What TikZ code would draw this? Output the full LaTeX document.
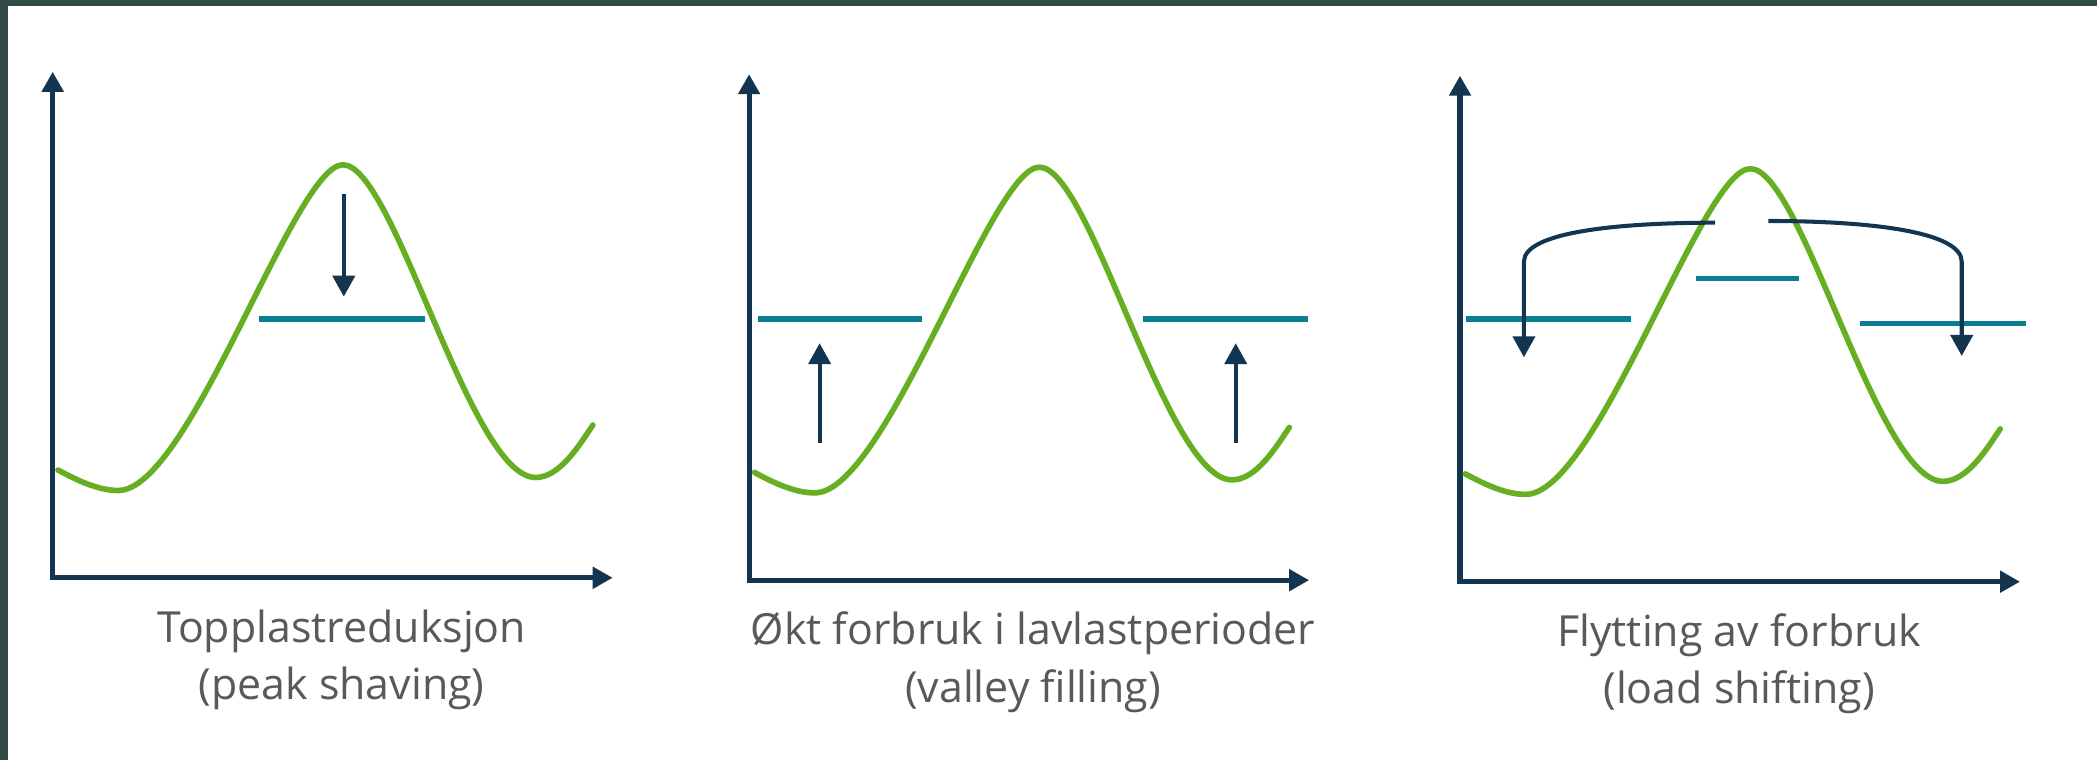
\documentclass[tikz,border=0pt]{standalone}
\usepackage{fontspec}
\setmainfont{Open Sans}
\usetikzlibrary{arrows.meta}

\definecolor{frame}{HTML}{304A47}
\definecolor{axisblue}{HTML}{13354F}
\definecolor{levelteal}{HTML}{0A7F94}
\definecolor{loadgreen}{HTML}{67AF22}
\definecolor{labelgray}{HTML}{595959}

\begin{document}
\begin{tikzpicture}[
    axis/.style={draw=axisblue, line width=1.45pt, {Triangle[width=2.1mm,length=2mm]}-{Triangle[width=2.1mm,length=2mm]}},
    load/.style={draw=loadgreen, line width=1.6pt, line cap=round},
    level/.style={draw=levelteal, line width=1.5pt},
    move/.style={draw=axisblue, line width=1.15pt, -{Triangle[width=2.2mm,length=2.1mm]}},
    caption/.style={text=labelgray, font=\fontsize{12.2}{16.4}\selectfont, align=center}
]
    \useasboundingbox (0, 0) rectangle (20.97, 7.60);
    \fill[frame] (0, 0) rectangle (0.08, 7.60);
    \fill[frame] (0, 7.54) rectangle (20.97, 7.60);

    % peak shaving
    \begin{scope}[shift={(0.527, 1.822)}]
        \coordinate (O1) at (0, 0);
        \coordinate (Y1) at (0, 5.06);
        \coordinate (X1) at (5.6, 0);
        \draw[axis] (Y1) -- (O1) -- (X1);
        \draw[load] (0.053, 1.078) .. controls (0.27, 0.96) and (0.47, 0.873) .. (0.656, 0.873)
            .. controls (1.37, 0.873) and (2.42, 4.13) .. (2.902, 4.13)
            .. controls (3.42, 4.13) and (4.17, 1.003) .. (4.83, 1.003)
            .. controls (5.07, 1.003) and (5.27, 1.33) .. (5.402, 1.528);
        \draw[level] (2.062, 2.588) -- (3.723, 2.588);
        \coordinate (p1) at (2.911, 3.839);
        \coordinate (q1) at (2.911, 2.811);
        \draw[move] (p1) -- (q1);
        \node[caption, anchor=base] (c1) at (2.89, -1.222) {Topplastreduksjon\\(peak shaving)};
    \end{scope}

    % valley filling
    \begin{scope}[shift={(7.491, 1.798)}]
        \coordinate (O2) at (0, 0);
        \coordinate (Y2) at (0, 5.06);
        \coordinate (X2) at (5.6, 0);
        \draw[axis] (Y2) -- (O2) -- (X2);
        \draw[load] (0.053, 1.078) .. controls (0.27, 0.96) and (0.47, 0.873) .. (0.656, 0.873)
            .. controls (1.37, 0.873) and (2.42, 4.13) .. (2.902, 4.13)
            .. controls (3.42, 4.13) and (4.17, 1.003) .. (4.83, 1.003)
            .. controls (5.07, 1.003) and (5.27, 1.33) .. (5.402, 1.528);
        \draw[level] (0.089, 2.612) -- (1.732, 2.612);
        \draw[level] (3.938, 2.612) -- (5.589, 2.612);
        \coordinate (p2) at (0.705, 1.367);
        \coordinate (q2) at (0.705, 2.37);
        \coordinate (p3) at (4.866, 1.367);
        \coordinate (q3) at (4.866, 2.37);
        \draw[move] (p2) -- (q2);
        \draw[move] (p3) -- (q3);
        \node[caption, anchor=base] (c2) at (2.84, -1.222) {Økt forbruk i lavlastperioder\\(valley filling)};
    \end{scope}

    % load shifting
    \begin{scope}[shift={(14.60, 1.783)}]
        \coordinate (O3) at (0, 0);
        \coordinate (Y3) at (0, 5.06);
        \coordinate (X3) at (5.6, 0);
        \draw[axis] (Y3) -- (O3) -- (X3);
        \draw[load] (0.053, 1.078) .. controls (0.27, 0.96) and (0.47, 0.873) .. (0.656, 0.873)
            .. controls (1.37, 0.873) and (2.42, 4.13) .. (2.902, 4.13)
            .. controls (3.42, 4.13) and (4.17, 1.003) .. (4.83, 1.003)
            .. controls (5.07, 1.003) and (5.27, 1.33) .. (5.402, 1.528);
        \draw[level] (0.058, 2.627) -- (1.711, 2.627);
        \draw[level] (2.356, 3.03) -- (3.387, 3.03);
        \draw[level] (4.0, 2.584) -- (5.658, 2.584);
        \coordinate (p4) at (2.552, 3.59);
        \coordinate (q4) at (0.639, 2.244);
        \coordinate (p5) at (3.084, 3.607);
        \coordinate (q5) at (5.017, 2.257);
        \draw[move] (p4) .. controls (1.6, 3.59) and (0.639, 3.5) .. (0.639, 3.2) -- (q4);
        \draw[move] (p5) .. controls (4.1, 3.607) and (5.017, 3.5) .. (5.017, 3.2) -- (q5);
        \node[caption, anchor=base] (c3) at (2.79, -1.222) {Flytting av forbruk\\(load shifting)};
    \end{scope}
\end{tikzpicture}
\end{document}
